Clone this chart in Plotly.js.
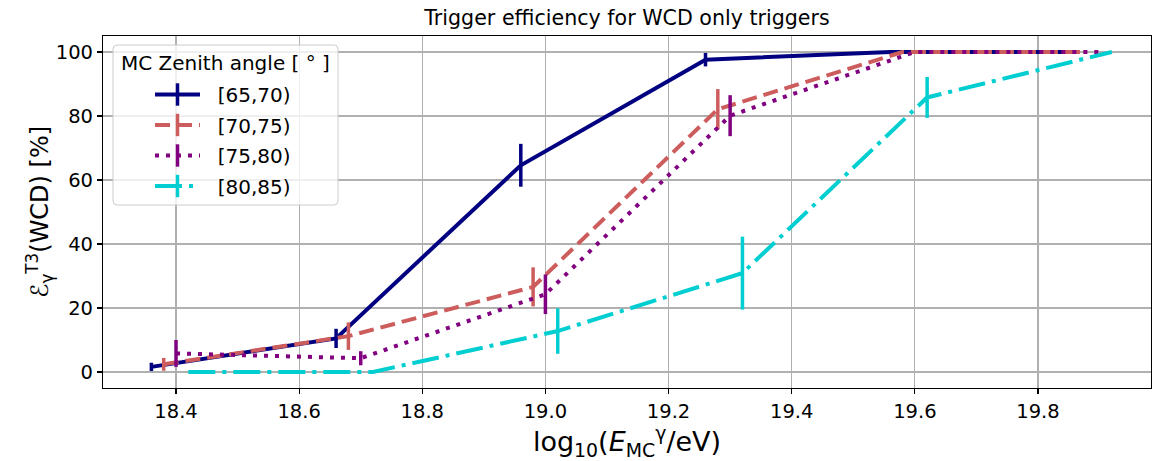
<!DOCTYPE html>
<html>
<head>
<meta charset="utf-8">
<script src="https://cdn.plot.ly/plotly-3.0.1.min.js"></script>
<style>html,body{margin:0;padding:0;background:#fff;}#chart{width:1155px;height:461px;}</style>
</head>
<body>
<div id="chart"></div>
<script>
// ---- data ----
const seriesNames = ["[65,70)", "[70,75)", "[75,80)", "[80,85)"];

const x65 = [18.36, 18.66, 18.96, 19.26, 19.56, 19.86];
const y65 = [1.6, 10.5, 64.6, 97.6, 100, 100];
const e65 = [1.3, 3.0, 6.7, 2.1, 0, 0];

const x70 = [18.38, 18.68, 18.98, 19.28, 19.58, 19.88];
const y70 = [2.4, 11.2, 26.6, 82.1, 100, 100];
const e70 = [2.0, 4.3, 6.1, 6.3, 0, 0];

const x75 = [18.40, 18.70, 19.00, 19.30, 19.60, 19.90];
const y75 = [5.8, 4.3, 24.3, 80.1, 100, 100];
const e75 = [4.2, 2.2, 6.2, 6.4, 0, 0];

const x80 = [18.42, 18.72, 19.02, 19.32, 19.62, 19.92];
const y80 = [0, 0, 12.8, 30.9, 85.8, 100];
const e80 = [0, 0, 7.1, 11.4, 6.4, 0];

const xTicks = [18.4, 18.6, 18.8, 19.0, 19.2, 19.4, 19.6, 19.8];
const yTicks = [0, 20, 40, 60, 80, 100];

// ---- styles ----
const colors = ["#000080", "#CD5C5C", "#800080", "#00CED1"];
const dashes = ["solid", "15px,7px", "4px,7px", "27px,7px,4px,7px"];
const xs = [x65, x70, x75, x80];
const ys = [y65, y70, y75, y80];
const es = [e65, e70, e75, e80];

const FONT = "DejaVu Sans, sans-serif";
const traces = [];
for (let i = 0; i < 4; i++) {
  traces.push({
    type: "scatter", mode: "lines",
    x: xs[i], y: ys[i], name: seriesNames[i],
    showlegend: false,
    line: {color: colors[i], width: 4, dash: dashes[i]},
    error_y: {type: "data", array: es[i], visible: true, color: colors[i], thickness: 3.5, width: 0},
    hoverinfo: "x+y+name"
  });
}
// legend entries (line + vertical error-bar glyph)
for (let i = 0; i < 4; i++) {
  traces.push({
    type: "scatter", mode: "lines+markers",
    x: [null], y: [null], name: "\u00a0\u00a0" + seriesNames[i],
    legendgroup: "g" + i,
    line: {color: colors[i], width: 4, dash: dashes[i]},
    marker: {symbol: "line-ns", size: 16, color: colors[i], line: {color: colors[i], width: 3.5}}
  });
}

// legend box (manual, like matplotlib)
const L = 103, R = 4, T = 36, B = 73, W = 1155, H = 461;
const pw = W - L - R, ph = H - T - B;
function px2x(p) { return (p - L) / pw; }
function py2y(p) { return (H - B - p) / ph; }
const bx0 = px2x(113), bx1 = px2x(338), by0 = py2y(205), by1 = py2y(45);
const rx = 4 / pw, ry = 4 / ph;
const boxPath = `M ${bx0 + rx},${by1} L ${bx1 - rx},${by1} Q ${bx1},${by1} ${bx1},${by1 - ry} ` +
  `L ${bx1},${by0 + ry} Q ${bx1},${by0} ${bx1 - rx},${by0} L ${bx0 + rx},${by0} Q ${bx0},${by0} ${bx0},${by0 + ry} ` +
  `L ${bx0},${by1 - ry} Q ${bx0},${by1} ${bx0 + rx},${by1} Z`;

const layout = {
  width: W, height: H,
  margin: {l: L, r: R, t: T, b: B, pad: 0},
  paper_bgcolor: "#ffffff", plot_bgcolor: "#ffffff",
  font: {family: FONT, color: "#000000", size: 19.5},
  title: {text: "Trigger efficiency for WCD only triggers", font: {family: FONT, size: 20.6, color: "#000"},
          x: 0.5, xref: "paper", xanchor: "center", y: 1 - 18 / H, yref: "container", yanchor: "middle"},
  xaxis: {
    range: [18.2814, 19.9836], tickvals: xTicks, ticktext: xTicks.map(v => v.toFixed(1)),
    ticks: "outside", ticklen: 5, tickwidth: 1.1, tickcolor: "#000",
    showgrid: true, gridcolor: "#b0b0b0", gridwidth: 1.1, zeroline: false,
    showline: true, linecolor: "#000", linewidth: 1.1, mirror: true,
    tickfont: {family: FONT, size: 19.5, color: "#000"},
    title: {text: "log<sub>10</sub>(<i>E</i><sub>MC</sub><sup>γ</sup>/eV)", font: {family: FONT, size: 27, color: "#000"}, standoff: 0}
  },
  yaxis: {
    range: [-5, 105], tickvals: yTicks, ticktext: yTicks.map(String),
    ticks: "outside", ticklen: 5, tickwidth: 1.1, tickcolor: "#000",
    showgrid: true, gridcolor: "#b0b0b0", gridwidth: 1.1, zeroline: false,
    showline: true, linecolor: "#000", linewidth: 1.1, mirror: true,
    tickfont: {family: FONT, size: 19.5, color: "#000"},
    title: {text: "ℰ<sub>γ</sub><sup>T3</sup>(WCD) [%]", font: {family: FONT, size: 24, color: "#000"}, standoff: 0}
  },
  shapes: [{type: "path", xref: "paper", yref: "paper", path: boxPath, layer: "above",
            fillcolor: "rgba(255,255,255,0.8)", line: {color: "#cccccc", width: 1}}],
  annotations: [{text: "MC Zenith angle [ ° ]", xref: "paper", yref: "paper",
                 x: px2x(225.5), y: py2y(63), xanchor: "center", yanchor: "middle", showarrow: false,
                 font: {family: FONT, size: 20, color: "#000"}}],
  legend: {
    x: px2x(150), y: py2y(75), xanchor: "left", yanchor: "top",
    bgcolor: "rgba(0,0,0,0)", borderwidth: 0,
    font: {family: FONT, size: 20, color: "#000"},
    itemwidth: 45, tracegroupgap: 1.5, traceorder: "grouped"
  },
  showlegend: true
};

Plotly.newPlot("chart", traces, layout, {displayModeBar: false, staticPlot: true});
</script>
</body>
</html>
